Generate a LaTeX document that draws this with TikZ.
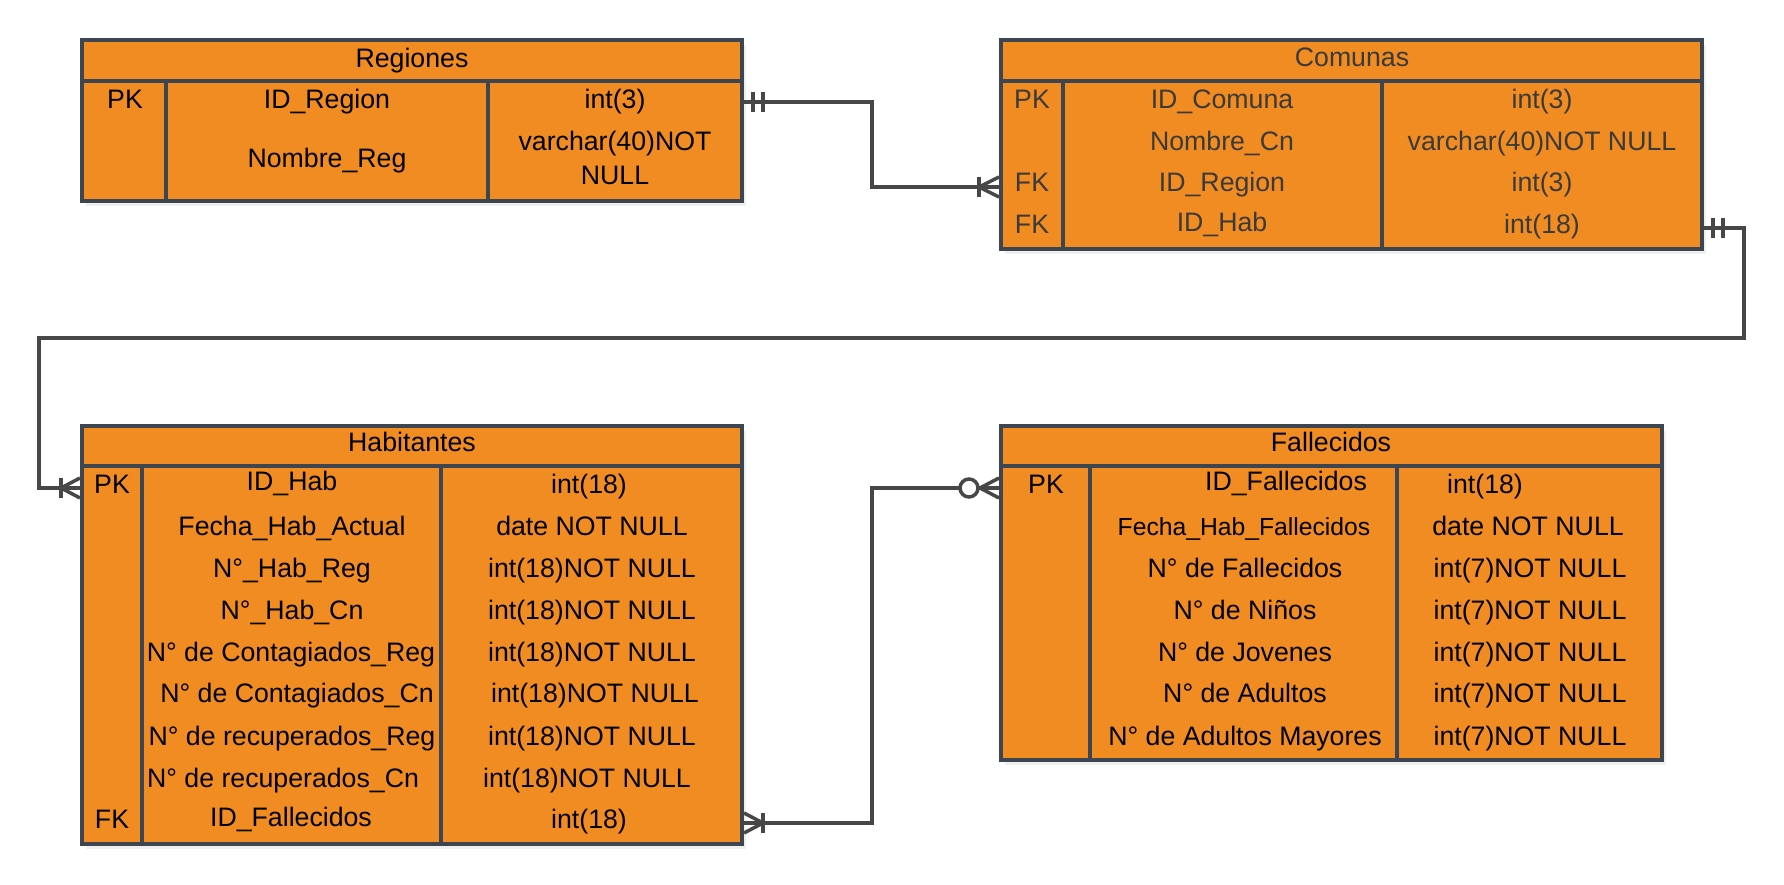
\documentclass[tikz,border=0pt]{standalone}
\usepackage{fontspec}
\setmainfont{Liberation Sans}
\usetikzlibrary{calc,shadows}
\definecolor{org}{HTML}{F08C22}
\definecolor{bord}{HTML}{3D4550}
\definecolor{linec}{HTML}{474747}
\definecolor{gtxt}{HTML}{3A3A3A}
\newcounter{tn}
\newcommand\T[4][black]{\stepcounter{tn}\node[txt,text=#1] (t\arabic{tn}) at (#2,#3+9) {#4};}
\begin{document}
\begin{tikzpicture}[x=1pt,y=-1pt,
  tbl/.style={draw=bord, line width=4pt, fill=org, inner sep=0pt, outer sep=0pt, anchor=north west,
    drop shadow={shadow xshift=4pt,shadow yshift=-5pt,opacity=0.12}},
  div/.style={draw=bord, line width=3.5pt},
  conn/.style={draw=linec, line width=4pt},
  mk/.style={draw=linec, line width=3.5pt},
  txt/.style={anchor=base, font=\fontsize{26.7}{30}\selectfont, inner sep=0pt},
]
\useasboundingbox[fill=white] (0,0) rectangle (1784,885);

% ---------- Regiones ----------
\node[tbl, minimum width=660pt, minimum height=161pt] (reg) at (82,40) {};
\draw[div] (82,81) -- (742,81);
\draw[div] (166,81) -- (166,201);
\draw[div] (488,81) -- (488,201);
\T{412}{59}{Regiones}
\T{125}{100}{PK}
\T{327}{100}{ID\_Region}
\T{327}{159}{Nombre\_Reg}
\T{615}{100}{int(3)}
\T{615}{142}{varchar(40)NOT}
\T{615}{176}{NULL}

% ---------- Comunas ----------
\node[tbl, minimum width=701pt, minimum height=209pt] (com) at (1001,40) {};
\draw[div] (1001,81) -- (1702,81);
\draw[div] (1063,81) -- (1063,249);
\draw[div] (1382,81) -- (1382,249);
\T[gtxt]{1352}{58}{Comunas}
\T[gtxt]{1032}{100}{PK}
\T[gtxt]{1032}{183}{FK}
\T[gtxt]{1032}{225}{FK}
\T[gtxt]{1222}{100}{ID\_Comuna}
\T[gtxt]{1222}{142}{Nombre\_Cn}
\T[gtxt]{1222}{183}{ID\_Region}
\T[gtxt]{1222}{223}{ID\_Hab}
\T[gtxt]{1542}{100}{int(3)}
\T[gtxt]{1542}{142}{varchar(40)NOT NULL}
\T[gtxt]{1542}{183}{int(3)}
\T[gtxt]{1542}{225}{int(18)}

% ---------- Habitantes ----------
\node[tbl, minimum width=660pt, minimum height=418pt] (hab) at (82,426) {};
\draw[div] (82,466) -- (742,466);
\draw[div] (142,466) -- (142,844);
\draw[div] (441,466) -- (441,844);
\T{412}{442}{Habitantes}
\T{112}{484}{PK}
\T{112}{819}{FK}
\T{292}{481}{ID\_Hab}
\T{292}{526}{Fecha\_Hab\_Actual}
\T{292}{568}{N°\_Hab\_Reg}
\T{292}{610}{N°\_Hab\_Cn}
\T{291}{652}{N° de Contagiados\_Reg}
\T{297}{693}{N° de Contagiados\_Cn}
\T{292}{736}{N° de recuperados\_Reg}
\T{283}{778}{N° de recuperados\_Cn}
\T{291}{817}{ID\_Fallecidos}
\T{589}{484}{int(18)}
\T{592}{526}{date NOT NULL}
\T{592}{568}{int(18)NOT NULL}
\T{592}{610}{int(18)NOT NULL}
\T{592}{652}{int(18)NOT NULL}
\T{595}{693}{int(18)NOT NULL}
\T{592}{736}{int(18)NOT NULL}
\T{587}{778}{int(18)NOT NULL}
\T{589}{819}{int(18)}

% ---------- Fallecidos ----------
\node[tbl, minimum width=661pt, minimum height=334pt] (fal) at (1001,426) {};
\draw[div] (1001,466) -- (1662,466);
\draw[div] (1090,466) -- (1090,760);
\draw[div] (1397,466) -- (1397,760);
\T{1331}{442}{Fallecidos}
\T{1046}{484}{PK}
\T{1286}{481}{ID\_Fallecidos}
\stepcounter{tn}\node[txt, font=\fontsize{24.7}{28}\selectfont] (t\arabic{tn}) at (1244,535) {Fecha\_Hab\_Fallecidos};
\T{1245}{568}{N° de Fallecidos}
\T{1245}{610}{N° de Niños}
\T{1245}{652}{N° de Jovenes}
\T{1245}{693}{N° de Adultos}
\T{1245}{736}{N° de Adultos Mayores}
\T{1485}{484}{int(18)}
\T{1528}{526}{date NOT NULL}
\T{1530}{568}{int(7)NOT NULL}
\T{1530}{610}{int(7)NOT NULL}
\T{1530}{652}{int(7)NOT NULL}
\T{1530}{693}{int(7)NOT NULL}
\T{1530}{736}{int(7)NOT NULL}

% ---------- Connectors ----------
\draw[conn] ($(reg.north east)+(0,62)$) -- (872,102) -- (872,187) -- ($(com.north west)+(0,147)$);
\draw[conn] ($(com.north east)+(0,188)$) -- (1744,228) -- (1744,338) -- (39,338) -- (39,488) -- ($(hab.north west)+(0,62)$);
\draw[conn] ($(hab.north east)+(0,397)$) -- (872,823) -- (872,488) -- ($(fal.north west)+(0,62)$);

% ---------- Markers ----------
% Regiones: one and only one
\draw[mk] (753,92) -- (753,112) (763,92) -- (763,112);
% Comunas: one or many
\draw[mk] (979,177) -- (979,197);
\draw[mk] (979,187) -- (999,177) (979,187) -- (999,197);
% Comunas right: one and only one
\draw[mk] (1713,218) -- (1713,238) (1723,218) -- (1723,238);
% Habitantes left: one or many
\draw[mk] (61,478) -- (61,498);
\draw[mk] (61,488) -- (80,478) (61,488) -- (80,498);
% Habitantes right: one or many
\draw[mk] (763,813) -- (763,833);
\draw[mk] (763,823) -- (744,813) (763,823) -- (744,833);
% Fallecidos: zero or many
\draw[mk, fill=white] (969,488) circle (9);
\draw[mk] (980,488) -- (999,478) (980,488) -- (999,498) (980,488) -- (1001,488);
\end{tikzpicture}
\end{document}
